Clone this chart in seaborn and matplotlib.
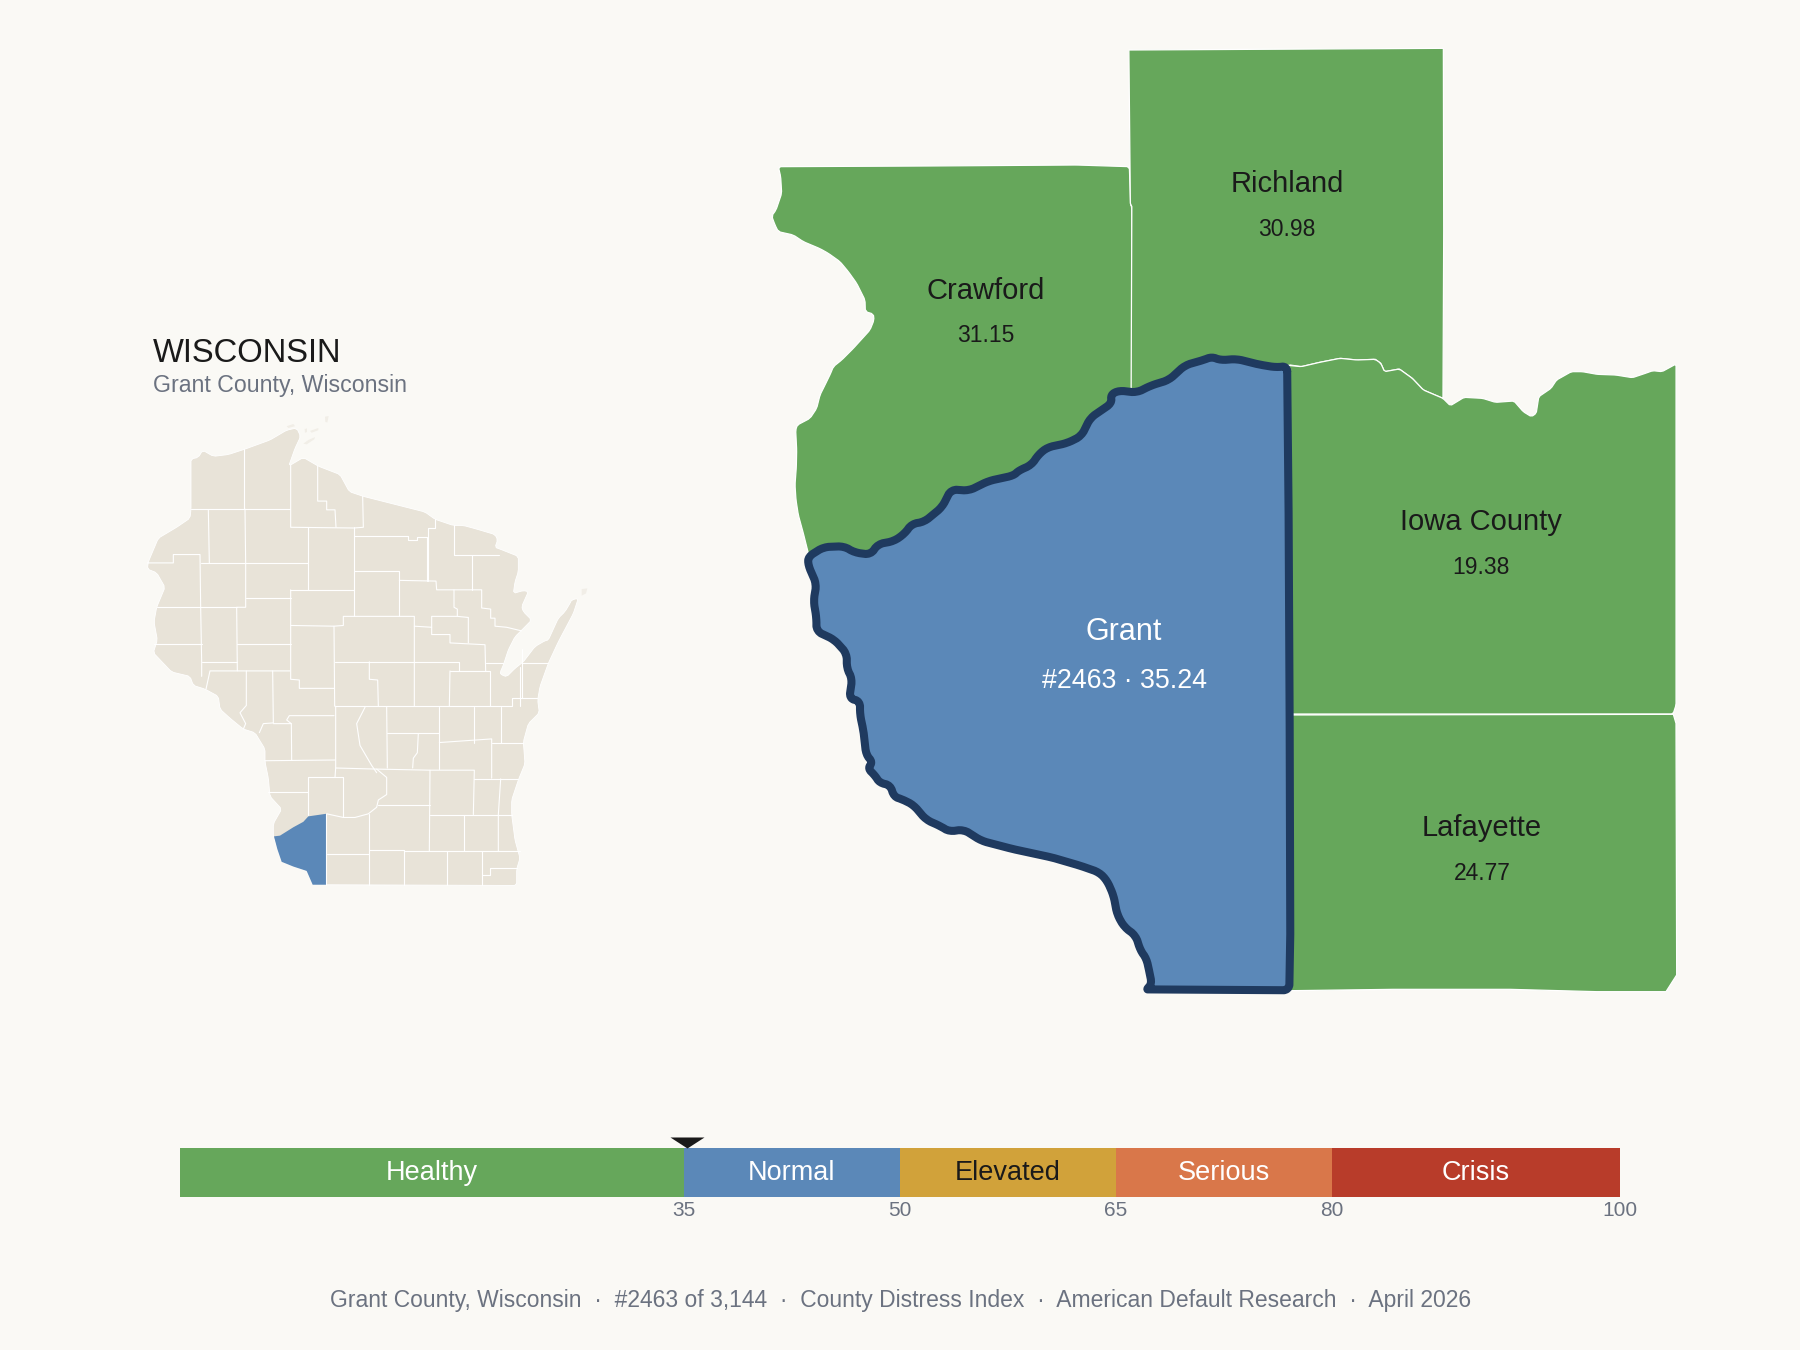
import matplotlib.pyplot as plt
import numpy as np
import pandas as pd
import seaborn as sns
from matplotlib.path import Path

# score bar
BAND_LABELS = ["Healthy", "Normal", "Elevated", "Serious", "Crisis"]
BAND_EDGES = [0, 35, 50, 65, 80, 100]
BAND_COLORS = ["#66A75B", "#5B88B8", "#D1A23A", "#D9774A", "#B83C2A"]
BAND_TEXT = ["white", "white", "#1A1A1A", "white", "white"]
TICK_VALUES = [35, 50, 65, 80, 100]
GRANT_SCORE = 35.24

# county labels: name, value, centre in figure pixels
NEIGHBOR_NAMES = ["Crawford", "Richland", "Iowa County", "Lafayette"]
NEIGHBOR_SCORES = ["31.15", "30.98", "19.38", "24.77"]
NEIGHBOR_X = [986, 1287, 1481, 1482]
NEIGHBOR_Y = [291, 184, 522, 828]

CRAWFORD = [
    (55, 50), (500, 48), (950, 45), (1108, 50), (1112, 165), (1115, 170), (1115, 760), (600, 1250),
    (150, 1250), (145, 1210), (130, 1150), (115, 1095), (108, 1050), (105, 1005), (109, 950),
    (110, 900), (107, 840), (112, 825), (150, 805), (170, 775), (180, 735), (195, 705), (212, 670),
    (220, 650), (245, 630), (280, 595), (330, 540), (342, 510), (340, 492), (316, 485), (315, 450),
    (290, 400), (265, 365), (240, 335), (205, 310), (180, 296), (130, 275), (100, 255), (55, 245),
    (45, 225), (35, 198), (48, 180), (65, 130), (62, 80),
]
RICHLAND = [
    (24, 60), (874, 55), (875, 600), (873, 1105), (820, 1080), (790, 1045), (755, 1017), (715, 1025),
    (705, 1000), (690, 988), (640, 990), (595, 985), (540, 997), (490, 1010), (460, 1005), (300, 1100),
    (30, 1100), (32, 530), (28, 520),
]
IOWA = [
    (445, 1005), (490, 1010), (540, 997), (595, 985), (640, 990), (690, 988), (705, 1000), (715, 1025),
    (755, 1017), (790, 1045), (820, 1080), (873, 1105), (893, 1127), (930, 1102), (980, 1105),
    (1015, 1117), (1065, 1113), (1090, 1145), (1112, 1160), (1125, 1150), (1132, 1100), (1165, 1075),
    (1180, 1050), (1220, 1025), (1250, 1025), (1290, 1033), (1340, 1035), (1385, 1043), (1420, 1030),
    (1440, 1022), (1465, 1025), (1503, 1002), (1503, 2025), (1495, 2052), (445, 2052),
]
LAFAYETTE = [
    (40, 105), (1210, 103), (1218, 130), (1220, 885), (1188, 935), (980, 935), (720, 928), (370, 928),
    (65, 932), (40, 932),
]
GRANT = [
    (1476, 62), (1480, 400), (1483, 900), (1485, 1400), (1482, 1545), (1090, 1543), (1082, 1543),
    (1097, 1530), (1090, 1500), (1082, 1470), (1065, 1450), (1052, 1415), (1020, 1395), (1000, 1365),
    (990, 1320), (972, 1285), (950, 1265), (900, 1250), (820, 1230), (710, 1210), (620, 1190),
    (570, 1163), (530, 1168), (505, 1155), (465, 1140), (430, 1105), (400, 1092), (375, 1085),
    (365, 1058), (335, 1052), (322, 1035), (302, 1018), (315, 1003), (297, 985), (290, 930), (280, 890),
    (280, 858), (250, 852), (258, 805), (243, 780), (243, 745), (208, 712), (158, 692), (158, 660),
    (150, 620), (158, 580), (135, 535), (135, 515), (178, 492), (235, 490), (265, 505), (310, 510),
    (330, 485), (375, 478), (405, 460), (425, 437), (460, 432), (510, 397), (535, 355), (585, 358),
    (640, 335), (710, 322), (725, 310), (760, 297), (780, 272), (805, 255), (860, 245), (900, 228),
    (925, 185), (985, 150), (982, 130), (1005, 120), (1055, 125), (1095, 108), (1145, 95), (1190, 60),
    (1240, 48), (1265, 40), (1290, 48), (1335, 45), (1395, 58), (1445, 65),
]

STATE = [
    (183, 382), (205, 378), (218, 358), (250, 375), (295, 370), (345, 355), (420, 330), (470, 303),
    (500, 297), (512, 320), (495, 353), (476, 402), (520, 378), (565, 402), (630, 425), (658, 472),
    (700, 485), (885, 528), (915, 548), (970, 565), (1000, 565), (1040, 575), (1095, 590), (1103, 605),
    (1095, 625), (1110, 630), (1165, 650), (1165, 692), (1155, 720), (1150, 752), (1180, 744),
    (1195, 747), (1175, 788), (1180, 802), (1205, 825), (1175, 853), (1155, 871), (1135, 907),
    (1120, 949), (1110, 970), (1115, 976), (1130, 981), (1155, 958), (1180, 940), (1190, 928),
    (1215, 898), (1245, 882), (1255, 880), (1285, 820), (1305, 802), (1320, 779), (1325, 770),
    (1345, 765), (1330, 807), (1285, 885), (1255, 944), (1230, 1008), (1223, 1045),
    (1228, 1080), (1195, 1110), (1180, 1160), (1185, 1220), (1165, 1265), (1145, 1320), (1145, 1360),
    (1155, 1430), (1170, 1480), (1160, 1510), (1160, 1555), (548, 1553), (530, 1515), (455, 1490),
    (430, 1420), (430, 1385), (455, 1345), (420, 1310), (415, 1260), (405, 1215), (405, 1180),
    (375, 1135), (340, 1125), (300, 1095), (270, 1070), (265, 1035), (225, 1015), (190, 1005),
    (180, 980), (125, 968), (70, 915), (82, 880), (72, 830), (80, 790), (105, 735), (80, 695),
    (52, 685), (55, 665), (85, 600), (140, 570), (180, 545), (183, 520),
]
ISLANDS = [
    [(585, 266), (596, 264), (592, 282), (586, 280)],
    [(540, 305), (565, 297), (565, 303), (545, 310)],
    [(524, 300), (531, 298), (531, 308), (525, 310)],
    [(520, 340), (535, 330), (555, 322), (553, 328), (530, 342)],
    [(470, 292), (490, 286), (495, 292), (475, 297)],
    [(1355, 740), (1372, 738), (1368, 752), (1355, 758)],
]
STATE_GRANT = [
    (535, 1365), (588, 1358), (588, 1553), (548, 1553), (530, 1515), (490, 1503), (455, 1490),
    (442, 1455), (432, 1420), (450, 1418), (490, 1395), (520, 1380),
]
COUNTY_LINES = [
    [(343, 355), (343, 520)],
    [(183, 520), (480, 520)],
    [(482, 400), (482, 570), (672, 572), (700, 570), (698, 485)],
    [(563, 402), (563, 498), (590, 498), (590, 522), (615, 522), (618, 570)],
    [(235, 522), (238, 668)],
    [(345, 520), (347, 668), (347, 790), (320, 790), (322, 965)],
    [(52, 668), (130, 668), (130, 645), (210, 645), (212, 790), (215, 940), (215, 980)],
    [(212, 668), (535, 668)],
    [(535, 570), (535, 742)],
    [(480, 742), (672, 742)],
    [(673, 570), (673, 815)],
    [(347, 765), (482, 765)],
    [(482, 742), (482, 988), (508, 990), (508, 1013), (612, 1013)],
    [(80, 790), (320, 790)],
    [(72, 890), (215, 890)],
    [(322, 890), (482, 890)],
    [(215, 940), (322, 940)],
    [(228, 1015), (240, 965), (480, 965)],
    [(482, 840), (612, 842), (640, 840), (640, 815), (853, 815), (853, 1062)],
    [(612, 842), (614, 1062)],
    [(673, 595), (835, 595), (835, 605), (862, 605), (862, 597), (890, 597), (890, 718)],
    [(673, 690), (808, 690), (808, 815)],
    [(808, 716), (918, 718), (920, 742), (972, 742), (972, 790), (982, 795), (982, 815), (905, 815),
     (905, 865), (960, 865), (960, 888), (1065, 893), (1067, 965)],
    [(915, 548), (915, 572), (893, 572), (893, 718)],
    [(972, 565), (972, 645), (1108, 645)],
    [(1027, 645), (1027, 742)],
    [(972, 742), (1055, 742), (1055, 792), (1082, 795), (1082, 820), (1095, 820), (1095, 842),
     (1130, 845), (1175, 855)],
    [(853, 842), (905, 845)],
    [(982, 815), (1015, 818), (1015, 888)],
    [(614, 940), (988, 940), (988, 965)],
    [(718, 940), (718, 988), (743, 990), (745, 1062)],
    [(960, 965), (1080, 965), (1080, 1062)],
    [(960, 965), (958, 1062)],
    [(1067, 942), (1118, 942)],
    [(614, 1062), (1145, 1062), (1145, 1040), (1222, 1040)],
    [(1170, 955), (1170, 1062)],
    [(1175, 942), (1255, 942)],
    [(1175, 905), (1175, 1040)],
    [(349, 965), (349, 1060), (330, 1080), (347, 1110), (340, 1125)],
    [(428, 965), (430, 1108), (400, 1110), (388, 1135)],
    [(430, 1110), (484, 1110), (470, 1100), (478, 1088), (612, 1088)],
    [(484, 1110), (485, 1210)],
    [(405, 1212), (615, 1210)],
    [(617, 1062), (617, 1232), (740, 1235), (770, 1258), (770, 1305), (745, 1320), (740, 1340),
     (715, 1358), (675, 1368), (640, 1368), (590, 1358)],
    [(415, 1298), (535, 1298)],
    [(535, 1362), (535, 1258), (640, 1258), (640, 1368)],
    [(617, 1232), (615, 1258)],
    [(705, 1065), (680, 1110), (690, 1170), (725, 1225), (740, 1245)],
    [(770, 1065), (772, 1232)],
    [(772, 1137), (928, 1137)],
    [(865, 1137), (862, 1190), (850, 1205), (848, 1232)],
    [(928, 1065), (928, 1235)],
    [(928, 1162), (1085, 1152), (1085, 1260)],
    [(1033, 1065), (1033, 1162)],
    [(1112, 1065), (1112, 1162)],
    [(1085, 1162), (1180, 1162)],
    [(740, 1235), (900, 1238), (1033, 1238), (1030, 1360)],
    [(900, 1238), (898, 1460)],
    [(1033, 1262), (1165, 1262)],
    [(1112, 1262), (1105, 1360), (1105, 1460)],
    [(745, 1335), (900, 1335)],
    [(900, 1360), (1145, 1360)],
    [(1003, 1360), (1003, 1460)],
    [(718, 1358), (718, 1555)],
    [(590, 1468), (718, 1468)],
    [(718, 1457), (822, 1457), (822, 1555)],
    [(822, 1460), (1170, 1460)],
    [(950, 1460), (950, 1555)],
    [(1055, 1460), (1055, 1555)],
    [(1055, 1525), (1080, 1525), (1080, 1508), (1162, 1508)],
    [(588, 1358), (588, 1555)],
]

FOOTER = "Grant County, Wisconsin  ·  #2463 of 3,144  ·  County Distress Index  ·  American Default Research  ·  April 2026"

BG = "#FAF9F5"
INK = "#1A1A1A"
MUTED = "#6B7280"
GREEN = "#66A75B"
BLUE = "#5B88B8"
NAVY = "#1F3A5F"
LAND = "#E8E3D8"
ISLAND = "#F1EEE7"


def from_crop(points, x0, y0, sx, sy):
    pts = np.array(points, dtype=float)
    return x0 + pts[:, 0] / sx, y0 + pts[:, 1] / sy


def inset(points):
    return from_crop(points, 130, 320, 3, 2.75)


def soften(xs, ys, reach):
    # cut each corner of a closed outline, by at most reach pixels
    pts = np.column_stack([xs, ys])
    out = []
    for p, q in zip(pts, np.roll(pts, -1, axis=0)):
        t = min(0.25, reach / np.linalg.norm(q - p))
        out += [p + (q - p) * t, q - (q - p) * t]
    out = np.array(out)
    return out[:, 0], out[:, 1]


def main() -> None:
    sns.set_theme(style="white", rc={"figure.facecolor": BG, "axes.facecolor": "none"})
    plt.rcParams["font.family"] = ["Liberation Sans", "DejaVu Sans"]

    fig = plt.figure(figsize=(18, 13.5), dpi=100)

    # whole figure in pixels, y down
    ax = fig.add_axes([0, 0, 1, 1])
    ax.set_xlim(0, 1800)
    ax.set_ylim(1350, 0)
    ax.axis("off")

    # neighbouring counties, river edges a little softened, straight ones left sharp
    shapes = [
        soften(*from_crop(CRAWFORD, 760, 150, 3, 3), 2),
        from_crop(RICHLAND, 1120, 30, 2.703, 3),
        soften(*from_crop(IOWA, 1120, 30, 2.703, 3), 1.5),
        from_crop(LAFAYETTE, 1270, 680, 3, 3),
    ]
    for xs, ys in shapes:
        ax.fill(xs, ys, facecolor=GREEN, edgecolor="white", linewidth=0.9, joinstyle="round")

    gx, gy = from_crop(GRANT, 760, 340, 2.8, 2.376)
    gx, gy = soften(gx, gy, 3.5)
    gx, gy = soften(gx, gy, 1.5)
    ax.fill(gx, gy, facecolor=BLUE, edgecolor="none")
    sns.lineplot(
        x=np.append(gx, gx[0]), y=np.append(gy, gy[0]), sort=False, estimator=None, color=NAVY,
        linewidth=5.8, ax=ax, solid_joinstyle="round", solid_capstyle="round",
    )
    ax.set_xlim(0, 1800)
    ax.set_ylim(1350, 0)

    for name, score, x, y in zip(NEIGHBOR_NAMES, NEIGHBOR_SCORES, NEIGHBOR_X, NEIGHBOR_Y):
        ax.text(x, y, name, ha="center", va="center", fontsize=21, color=INK)
        ax.text(x, y + 45, score, ha="center", va="center", fontsize=16.5, color=INK)
    ax.text(1124, 631.5, "Grant", ha="center", va="center", fontsize=22, color="white")
    ax.text(1124, 680.5, "#2463 · 35.24", ha="center", va="center", fontsize=19.3, color="white")

    # state inset
    ax.text(153, 353.5, "WISCONSIN", ha="left", va="center", fontsize=23.6, color=INK)
    ax.text(153, 385.5, "Grant County, Wisconsin", ha="left", va="center", fontsize=16.65, color=MUTED)
    xs, ys = inset(STATE)
    xs, ys = soften(xs, ys, 2)
    ax.fill(xs, ys, facecolor=LAND, edgecolor="white", linewidth=0.6)
    for island in ISLANDS:
        xs, ys = inset(island)
        ax.fill(xs, ys, facecolor=ISLAND, edgecolor="none")
    for line in COUNTY_LINES:
        xs, ys = inset(line)
        ax.plot(xs, ys, color="white", linewidth=0.8, solid_capstyle="round")
    xs, ys = inset(STATE_GRANT)
    ax.fill(xs, ys, facecolor=BLUE, edgecolor="none")

    ax.text(901, 1300, FOOTER, ha="center", va="center", fontsize=16.5, color=MUTED)

    # score bar, one histogram bin per band
    edges = np.array(BAND_EDGES, dtype=float)
    mids = (edges[:-1] + edges[1:]) / 2
    bands = pd.DataFrame({"mid": mids, "band": BAND_LABELS, "weight": np.ones(len(mids))})
    bar_ax = fig.add_axes([180 / 1800, 1 - 1197 / 1350, 1440 / 1800, 49 / 1350])
    sns.histplot(
        data=bands, x="mid", weights="weight", bins=BAND_EDGES, hue="band", hue_order=BAND_LABELS,
        palette=BAND_COLORS, alpha=1, linewidth=0, legend=False, ax=bar_ax,
    )
    bar_ax.set_xlim(0, 100)
    bar_ax.set_ylim(0, 1)
    bar_ax.set_yticks([])
    bar_ax.set_xticks(TICK_VALUES)
    bar_ax.set_xticklabels([str(v) for v in TICK_VALUES])
    bar_ax.tick_params(axis="x", length=0, pad=3.2, labelsize=15, labelcolor=MUTED)
    sns.despine(ax=bar_ax, left=True, bottom=True)
    for label, mid, color in zip(BAND_LABELS, mids, BAND_TEXT):
        bar_ax.text(mid, 0.5, label, ha="center", va="center", fontsize=19.5, color=color)

    # pointer sits with its tip on the top of the bar
    pointer = Path([(-17, 11), (17, 11), (0, 0), (-17, 11)], closed=True)
    sns.scatterplot(
        x=[GRANT_SCORE], y=[1], marker=pointer, s=600, color=INK, linewidth=0,
        clip_on=False, legend=False, ax=bar_ax, zorder=5,
    )
    bar_ax.set_xlabel("")
    bar_ax.set_ylabel("")

    fig.savefig("out.png", dpi=100, facecolor=BG)


if __name__ == "__main__":
    main()
